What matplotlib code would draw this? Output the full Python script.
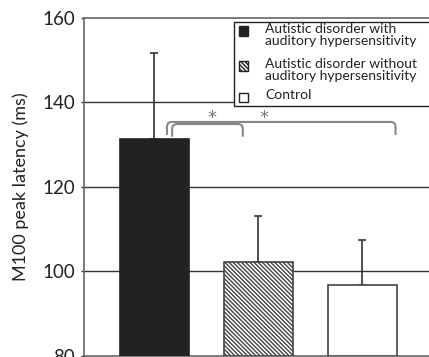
import matplotlib
matplotlib.use('Agg')
from matplotlib import pyplot as plt
from matplotlib.path import Path
from matplotlib.patches import PathPatch, Rectangle

plt.rcParams['font.family'] = ['Lato', 'DejaVu Sans']
plt.rcParams['hatch.linewidth'] = 1.0
plt.rcParams['hatch.color'] = '#333333'

# data
groups = ['Autistic disorder with\nauditory hypersensitivity',
          'Autistic disorder without\nauditory hypersensitivity',
          'Control']
means = [131.4, 102.2, 96.8]
upper_sd = [20.2, 11.0, 10.7]
y_ticks = [80, 100, 120, 140, 160]
# significance brackets: (x start, x end, top, foot)
brackets = [(0.12, 2.32, 135.4, 132.3), (0.17, 0.85, 134.9, 131.9)]
stars_x = [0.55, 1.05]
stars_y = 136.4

faces = ['#222222', 'white', 'white']
hatches = [None, '\\' * 8, None]
edges = ['#222222', '#444444', '#444444']


def bracket_path(x0, x1, ytop, yfoot, rx=0.045, ry=1.2):
    verts = [(x0, yfoot), (x0, ytop - ry), (x0, ytop), (x0 + rx, ytop),
             (x1 - rx, ytop), (x1, ytop), (x1, ytop - ry), (x1, yfoot)]
    codes = [Path.MOVETO, Path.LINETO, Path.CURVE3, Path.CURVE3,
             Path.LINETO, Path.CURVE3, Path.CURVE3, Path.LINETO]
    return Path(verts, codes)


fig = plt.figure(figsize=(4.29, 3.57), dpi=100)
ax = fig.add_axes((84 / 429, 1 / 357, 1 - 84 / 429, 338 / 357))

xs = list(range(len(means)))
for x, m, s, fc, h, ec in zip(xs, means, upper_sd, faces, hatches, edges):
    ax.bar(x, m - 80, bottom=80, width=0.664, color=fc, hatch=h,
           edgecolor=ec, linewidth=1.2, zorder=3)
    ax.errorbar(x, m, yerr=[[0], [s]], fmt='none', ecolor='#333333',
                elinewidth=1.2, capsize=3.2, capthick=1.2, zorder=2)

for x0, x1, yt, yf in brackets:
    ax.add_patch(PathPatch(bracket_path(x0, x1, yt, yf), fill=False,
                           edgecolor='#888888', linewidth=1.5, zorder=4))
for sx in stars_x:
    ax.text(sx, stars_y, '*', ha='center', va='center', fontsize=13,
            family='DejaVu Sans', color='#777777', zorder=4)

ax.set_xlim(-0.6785, 2.642)
ax.set_ylim(80, 160)
ax.set_yticks(y_ticks)
ax.set_xticks([])
for y in y_ticks[1:-1]:
    ax.axhline(y, color='#333333', linewidth=1.0, zorder=1)
ax.spines['right'].set_visible(False)
for side in ['left', 'top', 'bottom']:
    ax.spines[side].set_color('#666666')
    ax.spines[side].set_linewidth(1.2)
ax.tick_params(axis='y', length=2.5, width=1.0, color='#333333',
               labelsize=13.5, pad=4, labelcolor='#222222')
ax.set_ylabel('M100 peak latency (ms)', fontsize=13, color='#222222')
ax.yaxis.set_label_coords(-0.16, 0.5)

# legend drawn by hand so the markers sit on the first text line
fig.add_artist(Rectangle((234 / 429, 1 - 106 / 357), 0.5, 84 / 357,
                         transform=fig.transFigure, facecolor='white',
                         edgecolor='#222222', linewidth=1.0, zorder=5))
legend_rows = [31, 66, 97]
for lab, fc, h, ec, yr in zip(groups, faces, hatches, edges, legend_rows):
    fig.add_artist(Rectangle((239 / 429, 1 - (yr + 4.5) / 357), 9 / 429, 9 / 357,
                             transform=fig.transFigure, facecolor=fc, hatch=h,
                             edgecolor='#222222', linewidth=1.0, zorder=6))
    fig.text(265 / 429, 1 - (yr - 8) / 357, lab, ha='left', va='top',
             multialignment='left', fontsize=10.0, linespacing=0.98,
             color='#222222', zorder=6)

fig.savefig('out.png', dpi=100)
